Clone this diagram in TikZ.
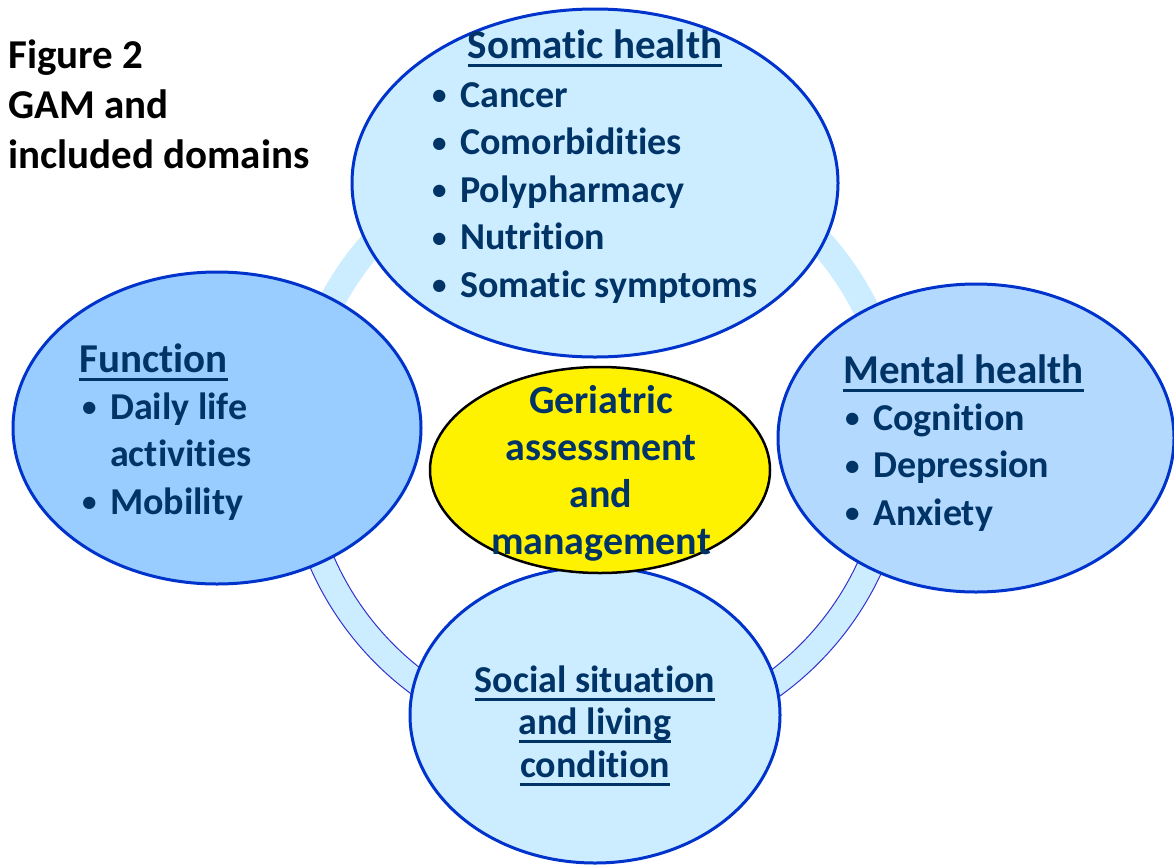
\documentclass[tikz,border=0pt]{standalone}
\usepackage{fontspec}
\setmainfont{Carlito}[Ligatures={TeX,NoCommon}]
\usetikzlibrary{shapes.geometric}

\definecolor{navy}{HTML}{003366}
\definecolor{rim}{HTML}{0033CC}
\definecolor{paleblue}{HTML}{CCECFF}
\definecolor{midblue}{HTML}{99CCFF}
\definecolor{softblue}{HTML}{B3D9FF}
\definecolor{ringline}{HTML}{3333CC}

% thick underline for the domain headings
\newsavebox\headbox
\newcommand\ulhead[1]{\sbox\headbox{#1}\rlap{\raisebox{-8.5pt}{\rule{\wd\headbox}{3pt}}}\usebox\headbox}
% small bullet with a fixed hanging indent
\newcommand\bul{\makebox[28pt][l]{\raisebox{2.5pt}{\fontsize{29}{29}\selectfont •}}}
\newcommand\hang{\hspace*{28pt}}

\begin{document}
\begin{tikzpicture}[x=1pt, y=-1pt,
  zone/.style={ellipse, draw=rim, line width=3pt, inner sep=0pt},
  txt/.style={text=navy, inner sep=0pt, font=\bfseries\fontsize{40}{47}\selectfont},
  headtxt/.style={txt, font=\bfseries\fontsize{41}{47}\selectfont},
  listtxt/.style={txt, anchor=base west, font=\bfseries\fontsize{38}{47.5}\selectfont},
  ringfill/.style={fill=paleblue},
  ringedge/.style={draw=ringline, line width=1pt}
]
\useasboundingbox (0,0) rectangle (1174,865);

% background ring linking the domains
\coordinate (hub) at (597,442);
\fill[ringfill, even odd rule] (hub) circle[radius=313] (hub) circle[radius=287];
\draw[ringedge] (hub) ++(0:313) arc[start angle=0, end angle=180, radius=313];
\draw[ringedge] (hub) ++(0:287) arc[start angle=0, end angle=180, radius=287];

% domain ellipses
\node[zone, fill=paleblue, minimum width=486, minimum height=348] (somatic) at (595,183) {};
\node[zone, fill=midblue, minimum width=408, minimum height=312] (function) at (217,428) {};
\node[zone, fill=softblue, minimum width=396, minimum height=308] (mental) at (976,438) {};
\node[zone, fill=paleblue, minimum width=370, minimum height=296] (social) at (595,715) {};
\node[ellipse, draw=black, line width=2.5pt, fill=yellow, inner sep=0pt,
      minimum width=340, minimum height=206] (gam) at (600,470) {};

% title
\node[inner sep=0pt, anchor=base west, font=\bfseries\fontsize{41}{50}\selectfont] (title) at (8,68)
  {\begin{tabular}[t]{@{}l@{}}Figure 2\\GAM and\\included domains\end{tabular}};

% somatic health
\node[headtxt, anchor=base] (somhead) at (595,58) {\ulhead{Somatic health}};
\node[listtxt] (somlist) at (432,107)
  {\begin{tabular}[t]{@{}l@{}}\bul Cancer\\\bul Comorbidities\\\bul Polypharmacy\\\bul Nutrition\\\bul Somatic symptoms\end{tabular}};

% function
\node[headtxt, anchor=base west] (funhead) at (79,372) {\ulhead{Function}};
\node[listtxt] (funlist) at (82,419)
  {\begin{tabular}[t]{@{}l@{}}\bul Daily life\\\hang activities\\\bul Mobility\end{tabular}};

% mental health
\node[headtxt, anchor=base west] (menhead) at (843,383) {\ulhead{Mental health}};
\node[listtxt] (menlist) at (845,430)
  {\begin{tabular}[t]{@{}l@{}}\bul Cognition\\\bul Depression\\\bul Anxiety\end{tabular}};

% social situation
\node[txt, anchor=base, font=\bfseries\fontsize{38}{42.5}\selectfont] (soctext) at (595,692)
  {\begin{tabular}[t]{@{}c@{}}\ulhead{Social situation}\\\ulhead{and living}\\\ulhead{condition}\end{tabular}};

% centre
\node[txt, anchor=base] (gamtext) at (601,413)
  {\begin{tabular}[t]{@{}c@{}}Geriatric\\assessment\\and\\management\end{tabular}};
\end{tikzpicture}
\end{document}
